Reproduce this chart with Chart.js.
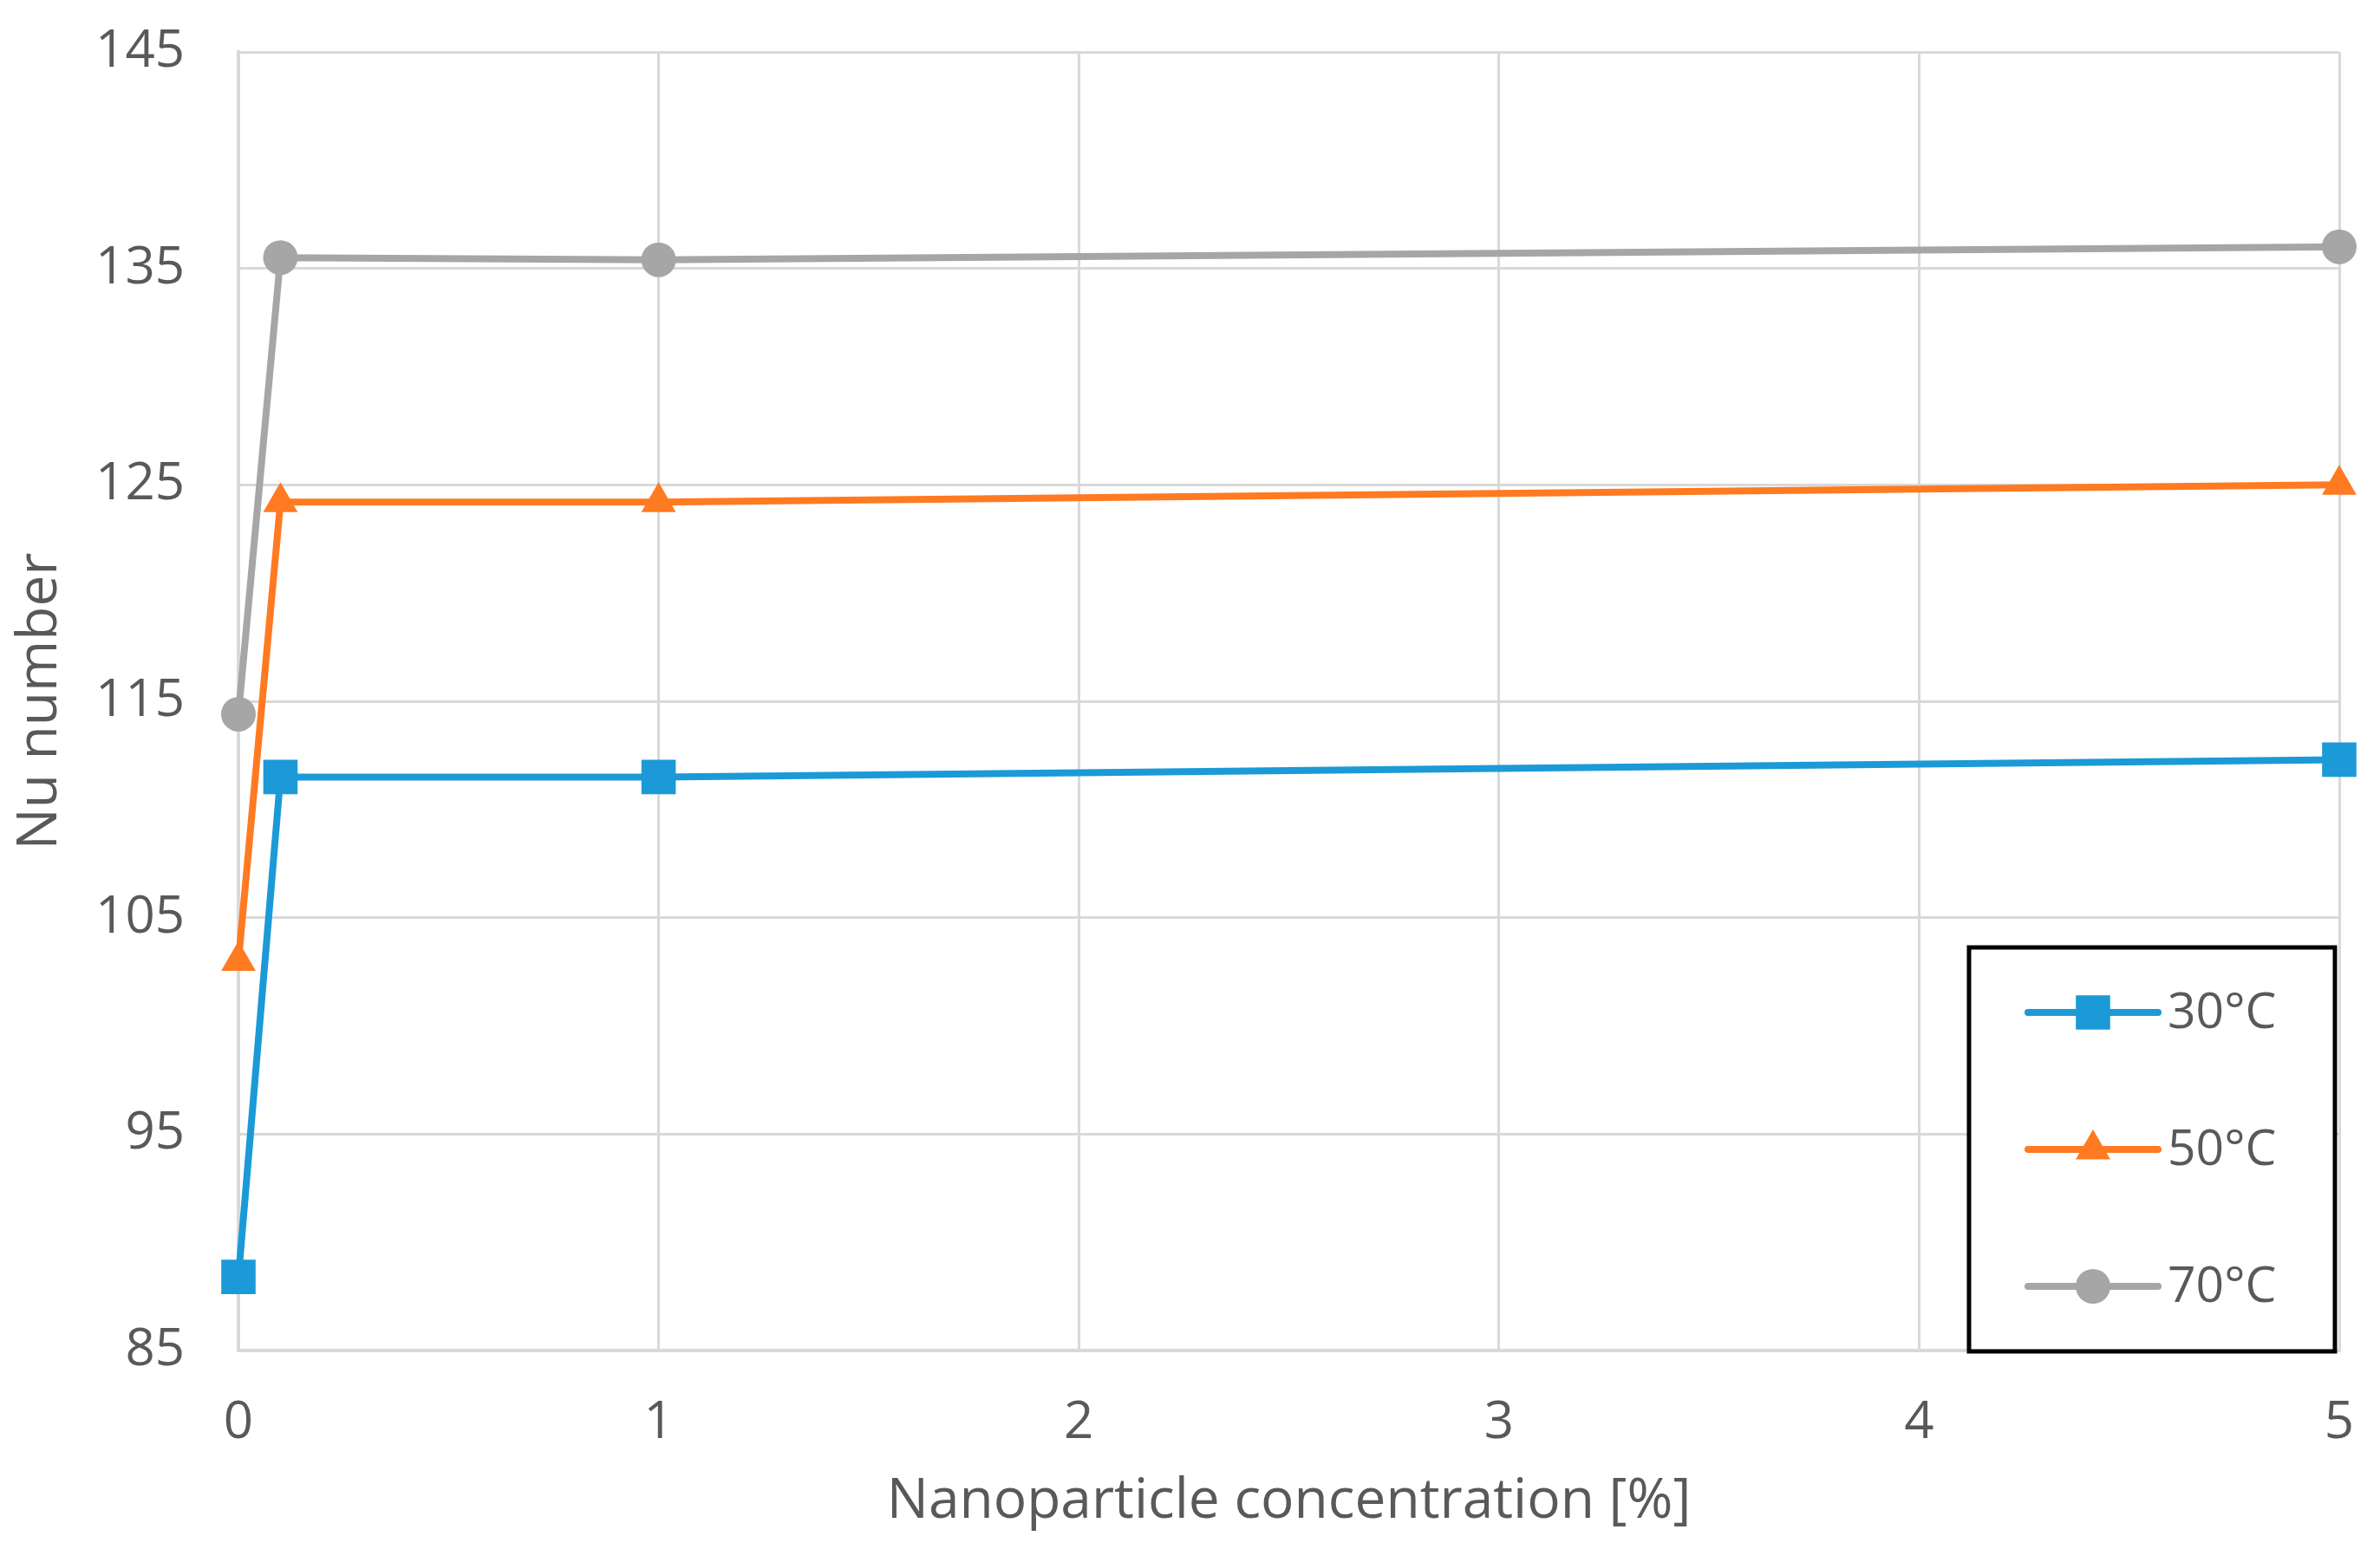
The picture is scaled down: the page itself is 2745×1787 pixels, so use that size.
<!DOCTYPE html>
<html>
<head>
<meta charset="utf-8">
<style>
  html, body { margin: 0; padding: 0; background: #ffffff; }
  #c { display: block; }
</style>
<script src="https://cdn.jsdelivr.net/npm/chart.js@4.4.1/dist/chart.umd.min.js"></script>
</head>
<body>
<canvas id="c" width="2745" height="1787"></canvas>
<script>
// ---- data ----
const concentrations = [0, 0.1, 1, 5];
const seriesLabels = ['30°C', '50°C', '70°C'];
const nu30 = [88.4, 111.5, 111.5, 112.3];
const nu50 = [103.0, 124.2, 124.2, 125.0];
const nu70 = [114.4, 135.5, 135.4, 136.0];
const xTicks = [0, 1, 2, 3, 4, 5];
const yTicks = [85, 95, 105, 115, 125, 135, 145];
const xTitle = 'Nanoparticle concentration [%]';
const yTitle = 'Nu number';

const colors = ['#1b9ad7', '#ff7a21', '#a6a6a6'];
const styles = ['rect', 'triangle', 'circle'];
const radii = [28, 23, 20];
const values = [nu30, nu50, nu70];

const FONT = "'Open Sans', 'DejaVu Sans', sans-serif";
const TEXT = '#595959';
const GRID = '#d9d9d9';

const datasets = values.map((vals, i) => ({
  label: seriesLabels[i],
  data: concentrations.map((x, j) => ({ x: x, y: vals[j] })),
  borderColor: colors[i],
  backgroundColor: colors[i],
  pointBackgroundColor: colors[i],
  pointBorderColor: colors[i],
  pointBorderWidth: 0,
  pointStyle: styles[i],
  pointRadius: radii[i],
  borderWidth: 8,
  tension: 0,
  clip: false,
  showLine: true
}));

const insideLegend = {
  id: 'insideLegend',
  afterDatasetsDraw(chart, args, o) {
    const { ctx, chartArea } = chart;
    const x0 = chartArea.right - o.offsetRight - o.width;
    const y0 = chartArea.bottom + o.offsetBottom - o.height;
    ctx.save();
    ctx.fillStyle = '#ffffff';
    ctx.fillRect(x0, y0, o.width, o.height);
    ctx.lineWidth = o.borderWidth;
    ctx.strokeStyle = '#000000';
    ctx.strokeRect(x0, y0, o.width, o.height);
    chart.data.datasets.forEach((ds, i) => {
      const cy = y0 + o.rowStart + i * o.rowGap;
      const lx0 = x0 + o.lineStart;
      const lx1 = lx0 + o.lineLen;
      ctx.strokeStyle = ds.borderColor;
      ctx.lineWidth = ds.borderWidth;
      ctx.lineCap = 'round';
      ctx.beginPath();
      ctx.moveTo(lx0, cy);
      ctx.lineTo(lx1, cy);
      ctx.stroke();
      ctx.fillStyle = ds.pointBackgroundColor;
      ctx.strokeStyle = ds.pointBorderColor;
      Chart.helpers.drawPoint(ctx, {
        pointStyle: ds.pointStyle, radius: ds.pointRadius, borderWidth: 0, rotation: 0
      }, (lx0 + lx1) / 2, cy);
      ctx.fillStyle = TEXT;
      ctx.font = o.fontSize + 'px ' + FONT;
      ctx.textBaseline = 'middle';
      ctx.textAlign = 'left';
      ctx.fillText(ds.label, x0 + o.textStart, cy + 2);
    });
    ctx.restore();
  }
};

new Chart(document.getElementById('c'), {
  type: 'scatter',
  data: { datasets: datasets },
  plugins: [insideLegend],
  options: {
    responsive: false,
    animation: false,
    layout: { padding: { left: 0, right: 47, top: 60, bottom: 0 } },
    plugins: {
      legend: { display: false },
      tooltip: { enabled: false },
      insideLegend: {
        width: 422, height: 466, offsetRight: 5, offsetBottom: 1,
        borderWidth: 5, rowStart: 75, rowGap: 158,
        lineStart: 68, lineLen: 150, textStart: 229, fontSize: 57
      }
    },
    scales: {
      x: {
        type: 'linear',
        min: 0, max: 5,
        afterBuildTicks: (s) => { s.ticks = xTicks.map(v => ({ value: v })); },
        afterFit: (s) => { s.height = 229; s.paddingLeft = 0; s.paddingRight = 0; },
        grid: { color: GRID, lineWidth: 3, drawTicks: false },
        border: { color: GRID, width: 4 },
        ticks: { color: TEXT, font: { family: FONT, size: 60 }, padding: 48 },
        title: {
          display: true, text: xTitle, color: TEXT,
          font: { family: FONT, size: 64 }, padding: { top: 0, bottom: 16 }
        }
      },
      y: {
        type: 'linear',
        min: 85, max: 145,
        afterBuildTicks: (s) => { s.ticks = yTicks.map(v => ({ value: v })); },
        afterFit: (s) => { s.width = 275; s.paddingTop = 0; s.paddingBottom = 0; },
        grid: { color: GRID, lineWidth: 3, drawTicks: false },
        border: { color: GRID, width: 4 },
        ticks: { color: TEXT, font: { family: FONT, size: 60 }, padding: 62 },
        title: {
          display: true, text: yTitle, color: TEXT,
          font: { family: FONT, size: 64 }, padding: { top: 8, bottom: 0 }
        }
      }
    }
  }
});
</script>
</body>
</html>
